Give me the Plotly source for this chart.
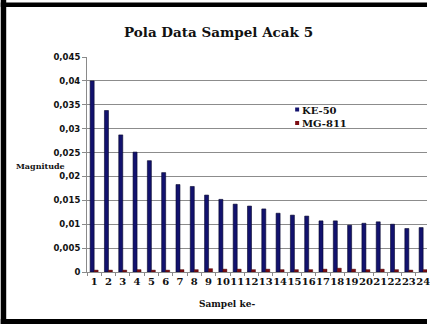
import plotly.graph_objects as go

# Sample index (categories) and magnitudes per sensor
samples = [str(i) for i in range(1, 25)]
ke50 = [0.0400, 0.0338, 0.0287, 0.0251, 0.0233, 0.0208, 0.0183, 0.0179,
        0.0161, 0.0152, 0.0142, 0.0138, 0.0132, 0.0123, 0.0119, 0.0117,
        0.0107, 0.0107, 0.0098, 0.0102, 0.0105, 0.0100, 0.0091, 0.0093]
mg811 = [0.0004, 0.0004, 0.0004, 0.0005, 0.0004, 0.0004, 0.0005, 0.0005,
         0.0007, 0.0006, 0.0006, 0.0005, 0.0006, 0.0005, 0.0005, 0.0005,
         0.0006, 0.0008, 0.0006, 0.0005, 0.0006, 0.0005, 0.0004, 0.0005]
y_ticks = [0, 0.005, 0.01, 0.015, 0.02, 0.025, 0.03, 0.035, 0.04, 0.045]
y_tick_text = ["0", "0,005", "0,01", "0,015", "0,02", "0,025", "0,03",
               "0,035", "0,04", "0,045"]

W, H = 430, 324
L, R, T, B = 87, 0, 57, 52
PW, PH = W - L - R, H - T - B

def px(x):
    return (x - L) / PW

def py(y):
    return (H - B - y) / PH

BLUE = "#12126e"
RED = "#7d0c12"
SERIF = "DejaVu Serif"

fig = go.Figure()
fig.add_trace(go.Bar(x=samples, y=ke50, name="KE-50",
                     marker=dict(color=BLUE, line=dict(color="#05052a", width=0.6))))
fig.add_trace(go.Bar(x=samples, y=mg811, name="MG-811",
                     marker=dict(color=RED, line=dict(color="#3a0505", width=0.4))))

fig.update_layout(
    width=W, height=H,
    margin=dict(l=L, r=R, t=T, b=B),
    paper_bgcolor="white", plot_bgcolor="white",
    barmode="group", bargap=0.44, bargroupgap=0.0,
    showlegend=False,
    xaxis=dict(
        type="category", range=[-0.5, 23.27],
        tickson="boundaries", ticks="outside", ticklen=3, tickcolor="#8a8a8a",
        showgrid=False, showline=True, linecolor="#8a8a8a", linewidth=1,
        tickangle=0,
        tickfont=dict(family=SERIF, size=10, color="#111", weight="bold"),
    ),
    yaxis=dict(
        range=[0, 0.045], tickvals=y_ticks, ticktext=y_tick_text,
        ticks="outside", ticklen=4, tickcolor="#8a8a8a",
        showgrid=True, gridcolor="#8c8c8c", gridwidth=1,
        showline=True, linecolor="#8a8a8a", linewidth=1, zeroline=False,
        tickfont=dict(family="DejaVu Sans", size=8.5, color="#111", weight="bold"),
    ),
)

annotations = [
    dict(text="Pola Data Sampel Acak 5", x=px(220), y=py(32),
         font=dict(family=SERIF, size=13.5, color="#111", weight="bold")),
    dict(text="Magnitude", x=px(40), y=py(166),
         font=dict(family=SERIF, size=8, color="#111", weight="bold")),
    dict(text="Sampel ke-", x=px(228), y=py(304),
         font=dict(family=SERIF, size=9, color="#111", weight="bold")),
    dict(text="KE-50", x=px(302), y=py(110), xanchor="left",
         font=dict(family=SERIF, size=10, color="#111", weight="bold")),
    dict(text="MG-811", x=px(302), y=py(123), xanchor="left",
         font=dict(family=SERIF, size=10, color="#111", weight="bold")),
]
for a in annotations:
    a.update(xref="paper", yref="paper", showarrow=False)
    a.setdefault("xanchor", "center")
    a.setdefault("yanchor", "middle")
fig.update_layout(annotations=annotations)

shapes = [
    # legend keys
    dict(type="rect", x0=px(297), x1=px(301), y0=py(111.5), y1=py(107.5),
         fillcolor=BLUE, line=dict(width=0)),
    dict(type="rect", x0=px(297), x1=px(301), y0=py(125), y1=py(121),
         fillcolor=RED, line=dict(width=0)),
    # black frame around the chart
    dict(type="rect", x0=px(0), x1=px(5.5), y0=py(0), y1=py(324),
         fillcolor="black", line=dict(width=0)),
    dict(type="rect", x0=px(0), x1=px(430), y0=py(2.5), y1=py(7),
         fillcolor="black", line=dict(width=0)),
    dict(type="rect", x0=px(0), x1=px(430), y0=py(319), y1=py(324),
         fillcolor="black", line=dict(width=0)),
]
for s in shapes:
    s.update(xref="paper", yref="paper", layer="above")
fig.update_layout(shapes=shapes)

fig.write_html("out.html")
